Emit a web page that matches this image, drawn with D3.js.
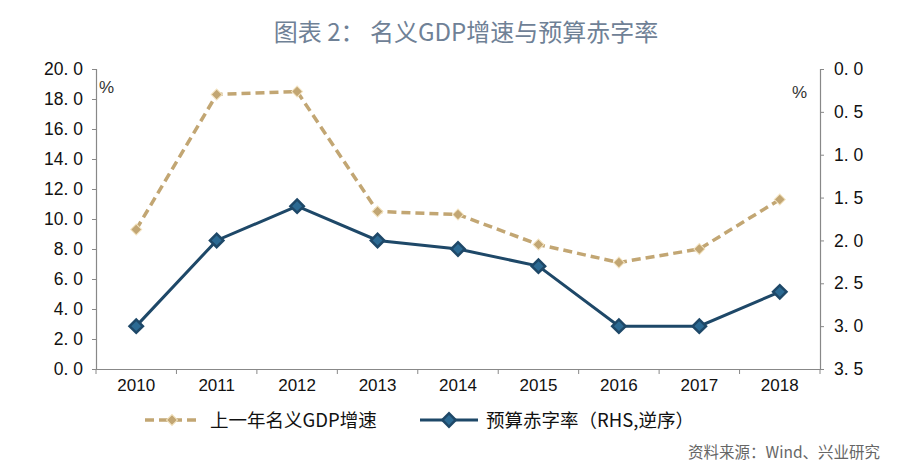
<!DOCTYPE html>
<html><head><meta charset="utf-8">
<script src="https://cdn.jsdelivr.net/npm/d3@7"></script>
<style>body{margin:0;background:#fff}svg{display:block}</style>
</head><body><svg id="c" width="900" height="473"></svg>
<script>
const categories = ["2010","2011","2012","2013","2014","2015","2016","2017","2018"];
const gdpGrowth = [9.3, 18.3, 18.5, 10.5, 10.3, 8.3, 7.1, 8.0, 11.3];
const deficitRate = [3.0, 2.0, 1.6, 2.0, 2.1, 2.3, 3.0, 3.0, 2.6];
const leftTicks = [0,2,4,6,8,10,12,14,16,18,20];
const rightTicks = [0,0.5,1,1.5,2,2.5,3,3.5];
const seriesNames = ["上一年名义GDP增速","预算赤字率（RHS,逆序）"];

const svg = d3.select("#c");
const L = 96, R = 820, T = 69, B = 369;
const gold = "#C2A673", navy = "#1E4868";
const x = d3.scaleBand().domain(categories).range([L, R]);
const yL = d3.scaleLinear().domain([0,20]).range([B, T]);
const yR = d3.scaleLinear().domain([0,3.5]).range([T, B]);
const cx = d => x(d) + x.bandwidth()/2;
const fmt = v => v.toFixed(1).replace(".", ". ");
const tickFont = "'Liberation Sans', Arial, sans-serif";

svg.append("text").attr("x", 466).attr("y", 41).attr("text-anchor","middle")
  .attr("font-family","'Noto Sans CJK SC', sans-serif").attr("font-size",24)
  .attr("fill","#6F8196").text("图表 2： 名义GDP增速与预算赤字率");

// left axis
const gl = svg.append("g").attr("transform",`translate(${L},0)`)
  .call(d3.axisLeft(yL).tickValues(leftTicks).tickSize(4).tickPadding(9).tickFormat(fmt));
gl.selectAll("text").attr("font-size",17.5).attr("font-family",tickFont).attr("fill","#111");
// right axis
const gr = svg.append("g").attr("transform",`translate(${R},0)`)
  .call(d3.axisRight(yR).tickValues(rightTicks).tickSize(4).tickPadding(10).tickFormat(fmt));
gr.selectAll("text").attr("font-size",17.5).attr("font-family",tickFont).attr("fill","#111");
// bottom axis
const gb = svg.append("g").attr("transform",`translate(0,${B})`)
  .call(d3.axisBottom(x).tickSize(0).tickPadding(10));
gb.selectAll("text").attr("font-size",17).attr("font-family",tickFont).attr("fill","#111");
gb.selectAll(".sep").data(categories.concat(["_end"])).enter().append("line")
  .attr("x1",(d,i)=>L + i*x.bandwidth()).attr("x2",(d,i)=>L + i*x.bandwidth())
  .attr("y1",0).attr("y2",5).attr("stroke","#888");
svg.selectAll(".domain").attr("stroke","#888").attr("stroke-width",1.2);
svg.selectAll(".tick line").attr("stroke","#888");

svg.append("text").attr("x",99).attr("y",93).attr("font-size",17).attr("font-family",tickFont).attr("fill","#333").text("%");
svg.append("text").attr("x",792).attr("y",98).attr("font-size",17).attr("font-family",tickFont).attr("fill","#333").text("%");

// gold dashed line
const lineL = d3.line().x((d,i)=>cx(categories[i])).y(d=>yL(d));
svg.append("path").datum(gdpGrowth).attr("d",lineL).attr("fill","none")
  .attr("stroke",gold).attr("stroke-width",3.5).attr("stroke-dasharray","9,5");
svg.selectAll(".gm").data(gdpGrowth).enter().append("path")
  .attr("transform",(d,i)=>`translate(${cx(categories[i])},${yL(d)}) rotate(45)`)
  .attr("d", d3.symbol().type(d3.symbolSquare).size(60))
  .attr("fill",gold).attr("stroke","#F3E3C0").attr("stroke-width",1);

// navy line
const lineR = d3.line().x((d,i)=>cx(categories[i])).y(d=>yR(d));
svg.append("path").datum(deficitRate).attr("d",lineR).attr("fill","none")
  .attr("stroke",navy).attr("stroke-width",3);
svg.selectAll(".nm").data(deficitRate).enter().append("path")
  .attr("transform",(d,i)=>`translate(${cx(categories[i])},${yR(d)}) rotate(45)`)
  .attr("d", d3.symbol().type(d3.symbolSquare).size(90))
  .attr("fill","#2C6A93").attr("stroke",navy).attr("stroke-width",2.5);

// legend
const lg = svg.append("g").attr("font-family","'Noto Sans CJK SC', sans-serif").attr("font-size",18.5).attr("fill","#111");
lg.append("line").attr("x1",145).attr("x2",200).attr("y1",420).attr("y2",420)
  .attr("stroke",gold).attr("stroke-width",3.5).attr("stroke-dasharray","9,5");
lg.append("path").attr("transform","translate(172,420) rotate(45)")
  .attr("d", d3.symbol().type(d3.symbolSquare).size(60)).attr("fill",gold).attr("stroke","#F3E3C0");
lg.append("text").attr("x",210).attr("y",427).text(seriesNames[0]);
lg.append("line").attr("x1",420).attr("x2",478).attr("y1",420).attr("y2",420)
  .attr("stroke",navy).attr("stroke-width",3);
lg.append("path").attr("transform","translate(449,420) rotate(45)")
  .attr("d", d3.symbol().type(d3.symbolSquare).size(90)).attr("fill","#2C6A93").attr("stroke",navy).attr("stroke-width",2.5);
lg.append("text").attr("x",486).attr("y",427).text(seriesNames[1]);

svg.append("text").attr("x",880).attr("y",458).attr("text-anchor","end")
  .attr("font-family","'Noto Sans CJK SC', sans-serif").attr("font-size",15.5).attr("fill","#666")
  .text("资料来源：Wind、兴业研究");
</script></body></html>
